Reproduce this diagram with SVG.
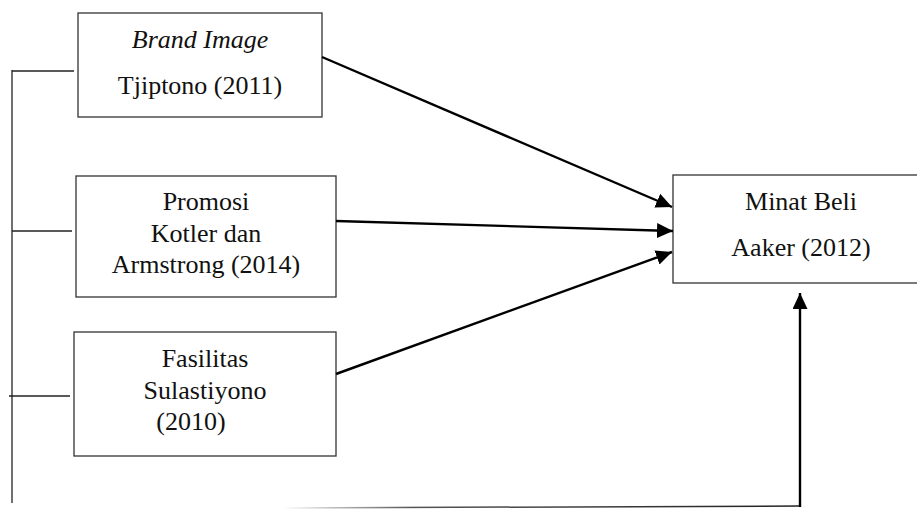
<svg xmlns="http://www.w3.org/2000/svg" width="917" height="509" viewBox="0 0 917 509">
<style>
.box{fill:#fff;stroke:#333;stroke-width:1.3}
.t{font-family:"Liberation Serif","Times New Roman",serif;font-size:26px;fill:#111;text-anchor:middle}
.it{font-style:italic}
.thin{stroke:#222;stroke-width:1.3;fill:none}
.arr{stroke:#000;stroke-width:2.4;fill:none;marker-end:url(#ah)}
</style>
<defs>
<marker id="ah" markerWidth="16" markerHeight="15" refX="16" refY="7.5" orient="auto" markerUnits="userSpaceOnUse">
<path d="M0,0 L16,7.5 L0,15 Z" fill="#000"/>
</marker>
<linearGradient id="fade" x1="283" y1="0" x2="800" y2="0" gradientUnits="userSpaceOnUse">
<stop offset="0" stop-color="#fff"/>
<stop offset="0.25" stop-color="#555"/>
<stop offset="1" stop-color="#222"/>
</linearGradient>
</defs>
<g id="n1"><rect class="box" x="78" y="13" width="244" height="104"/>
<text class="t it" x="200" y="48">Brand Image</text>
<text class="t" x="200" y="94">Tjiptono (2011)</text></g>
<g id="n2"><rect class="box" x="76" y="176" width="260" height="121"/>
<text class="t" x="206" y="210">Promosi</text>
<text class="t" x="206" y="242">Kotler dan</text>
<text class="t" x="206" y="273">Armstrong (2014)</text></g>
<g id="n3"><rect class="box" x="74" y="332" width="262" height="124"/>
<text class="t" x="205" y="367">Fasilitas</text>
<text class="t" x="205" y="399">Sulastiyono</text>
<text class="t" x="191" y="430">(2010)</text></g>
<g id="n4"><rect class="box" x="673" y="175" width="260" height="108"/>
<text class="t" x="801" y="210">Minat Beli</text>
<text class="t" x="801" y="256">Aaker (2012)</text></g>
<g id="connectors">
<line class="thin" x1="12" y1="70" x2="12" y2="503"/>
<line class="thin" x1="12" y1="71" x2="74" y2="71"/>
<line class="thin" x1="12" y1="231" x2="72" y2="231"/>
<line class="thin" x1="9" y1="396" x2="70" y2="396"/>
<line x1="283" y1="508" x2="800" y2="506" stroke="url(#fade)" stroke-width="1.5"/>
<line class="arr" x1="322" y1="57" x2="672" y2="207"/>
<line class="arr" x1="336" y1="221" x2="673" y2="231"/>
<line class="arr" x1="336" y1="374" x2="672" y2="252"/>
<line class="arr" x1="800" y1="507" x2="800" y2="293"/>
</g>
</svg>
